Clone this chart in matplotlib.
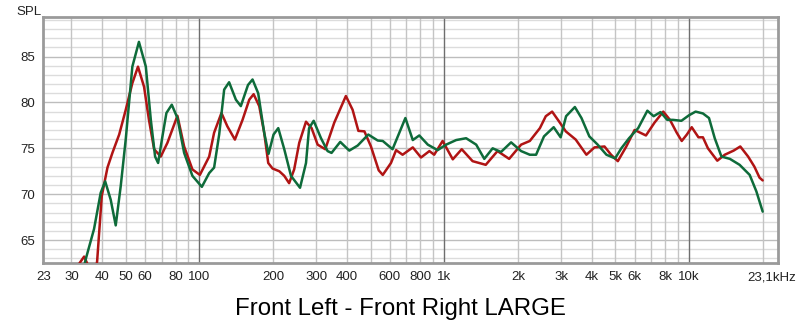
import matplotlib
matplotlib.use("Agg")
import matplotlib.pyplot as plt
import numpy as np

# frequency response (Hz, dB SPL)
freq_green = [30, 34.3, 37.1, 39.5, 41.2, 43.4, 45.5, 47.7, 50, 53.2, 56.6, 60.4, 63.3,
              65.9, 67.8, 70.6, 73.3, 77.1, 81.3, 86.6, 93.6, 102.3, 109.6, 114.8, 120.4,
              126.2, 132.2, 140.9, 147.6, 157.9, 164.8, 173.8, 183.9, 191.6, 200.8, 209.9,
              222.1, 236.6, 257.6, 272.5, 280.5, 292.9, 313.8, 333.8, 346.5, 376, 409.4,
              443, 489.5, 535, 561, 615, 694, 744, 791, 857, 940, 1018, 1119, 1229, 1351,
              1458, 1577, 1706, 1876, 2061, 2237, 2373, 2556, 2800, 2990, 3147, 3418,
              3637, 3916, 4236, 4600, 4990, 5290, 5690, 6200, 6760, 7170, 7650, 8150,
              8600, 9310, 10000, 10640, 11400, 12070, 12740, 13570, 14690, 16100, 17700,
              18850, 20000]
spl_green = [56.0, 62.9, 66.2, 70.15, 71.4, 69.4, 66.6, 70.9, 76.0, 83.9, 86.6, 83.9, 78.1,
             74.1, 73.4, 76.3, 78.85, 79.75, 78.3, 74.5, 72.0, 70.8, 72.3, 72.9, 76.5,
             81.4, 82.2, 80.3, 79.6, 81.9, 82.5, 81.0, 76.7, 74.4, 76.5, 77.2,
             74.9, 72.0, 70.7, 73.4, 77.2, 78.0, 76.1, 74.7, 74.5, 75.7, 74.75,
             75.3, 76.5, 75.85, 75.8, 74.9, 78.3, 75.9, 76.4, 75.4, 74.8, 75.4, 75.9, 76.1, 75.4,
             73.85, 75.0, 74.6, 75.65, 74.7, 74.3, 74.3, 76.3, 77.3, 76.2, 78.5, 79.5,
             78.3, 76.3, 75.4, 74.3, 73.9, 75.0, 76.1, 77.2, 79.1, 78.5, 78.95, 78.1,
             78.1, 78.0, 78.6, 79.0, 78.8, 78.3, 76.1, 74.1, 73.85, 73.2, 72.1,
             70.3, 68.1]

freq_red = [30, 32.4, 33.8, 35, 37, 38.2, 39.9, 42.1, 44.1, 47, 50, 53.2, 56.1, 59.4,
            62.2, 65.3, 69.5, 74, 81.3, 86.6, 93.6, 100.4, 109.6, 114.8, 123, 130, 139.6,
            150, 159.8, 166.5, 175.5, 183.9, 191, 198.9, 212, 222.1, 232.5, 243.8, 255.7,
            272.5, 287.2, 304, 326.6, 355.5, 396.5, 422.4, 446, 472, 502, 540, 561, 606,
            636, 676, 744, 804, 870, 910, 985, 1084, 1179, 1306, 1478, 1651, 1842, 2061,
            2237, 2460, 2600, 2760, 2950, 3137, 3446, 3810, 4110, 4516, 4805, 5120, 5545,
            5995, 6670, 7230, 7850, 8360, 8910, 9340, 9800, 10260, 10930, 11400, 11950,
            13050, 14000, 15220, 16200, 17440, 18500, 19420, 20000]
spl_red = [58.0, 62.5, 63.2, 62.3, 60.0, 62.7, 69.8, 72.9, 74.5, 76.5, 79.2, 82.1, 83.9, 81.7,
           78.1, 74.9, 74.1, 75.6, 78.55, 75.2, 72.7, 72.1, 74.1, 76.7, 78.85, 77.4, 75.95,
           78.1, 80.3, 80.9, 79.6, 76.7, 73.4, 72.8, 72.5, 72.0, 71.2, 72.7, 75.6,
           77.9, 77.2, 75.4, 74.9, 77.8, 80.7, 79.2, 76.9, 76.85, 75.2, 72.6, 72.1, 73.4,
           74.8, 74.3, 75.1, 74.0, 74.7, 74.3, 75.8, 73.8, 74.9, 73.6, 73.2, 74.7, 73.85, 75.4,
           75.8, 77.2, 78.5, 79.0, 77.9, 76.85, 75.95, 74.3, 75.1, 75.2, 74.3, 73.6, 75.2,
           77.0, 76.4, 77.8, 79.0, 78.1, 76.7, 75.8, 76.5, 77.3, 76.2, 76.2, 75.0,
           73.65, 74.3, 74.75, 75.2, 74.1, 73.0, 71.8, 71.5]

xticks = [23, 30, 40, 50, 60, 80, 100, 200, 300, 400, 600, 800, 1000, 2000, 3000,
          4000, 5000, 6000, 8000, 10000]
xtick_labels = ["23", "30", "40", "50", "60", "80", "100", "200", "300", "400", "600",
                "800", "1k", "2k", "3k", "4k", "5k", "6k", "8k", "10k"]
yticks = [65, 70, 75, 80, 85]

plt.rcParams['font.family'] = ['Liberation Sans', 'DejaVu Sans']

fig = plt.figure(figsize=(8, 3.29), dpi=100)
ax = fig.add_axes([0.054, 0.2006, 0.9185, 0.7474])
ax.set_xscale('log')
ax.set_xlim(23, 23100)
ax.set_ylim(62.5, 89.3)

# grid: every 1 dB, every 10..90 / 100..900 etc; decades darker
for db in range(63, 90):
    c = '#bdbdbd' if db % 5 == 0 else '#dcdcdc'
    ax.axhline(db, color=c, lw=1.0, zorder=1)
for dec in [10, 100, 1000, 10000]:
    for m in range(1, 10):
        f = dec * m
        if f < 23 or f > 23100:
            continue
        c = '#6e6e6e' if m == 1 else '#c4c4c4'
        ax.axvline(f, color=c, lw=1.0, zorder=1)

ax.plot(freq_red, spl_red, color='#b01414', lw=1.8, zorder=3,
        solid_joinstyle='round', solid_capstyle='round')
ax.plot(freq_green, spl_green, color='#0e6b3a', lw=1.8, zorder=4,
        solid_joinstyle='round', solid_capstyle='round')

ax.set_xticks(xticks)
ax.set_xticklabels(xtick_labels)
ax.xaxis.set_minor_locator(matplotlib.ticker.NullLocator())
ax.set_yticks(yticks)
ax.tick_params(length=0, labelsize=9.5, pad=6, colors='#222222')

# last frequency label sits a bit left of the right edge
ax.annotate("23,1kHz", xy=(23100, 0), xycoords=('data', 'axes fraction'),
            xytext=(-6, -8), textcoords='offset pixels', ha='center', va='top',
            fontsize=9.5, color='#222222')

for s in ax.spines.values():
    s.set_color('#9a9a9a')
    s.set_linewidth(2.0)

fig.text(0.021, 0.965, "SPL", fontsize=9.5, ha='left', va='center', color='#222222')
fig.text(0.5, 0.06, "Front Left - Front Right LARGE", fontsize=17.3, ha='center', va='center')

fig.savefig("out.png", dpi=100, facecolor='white')
